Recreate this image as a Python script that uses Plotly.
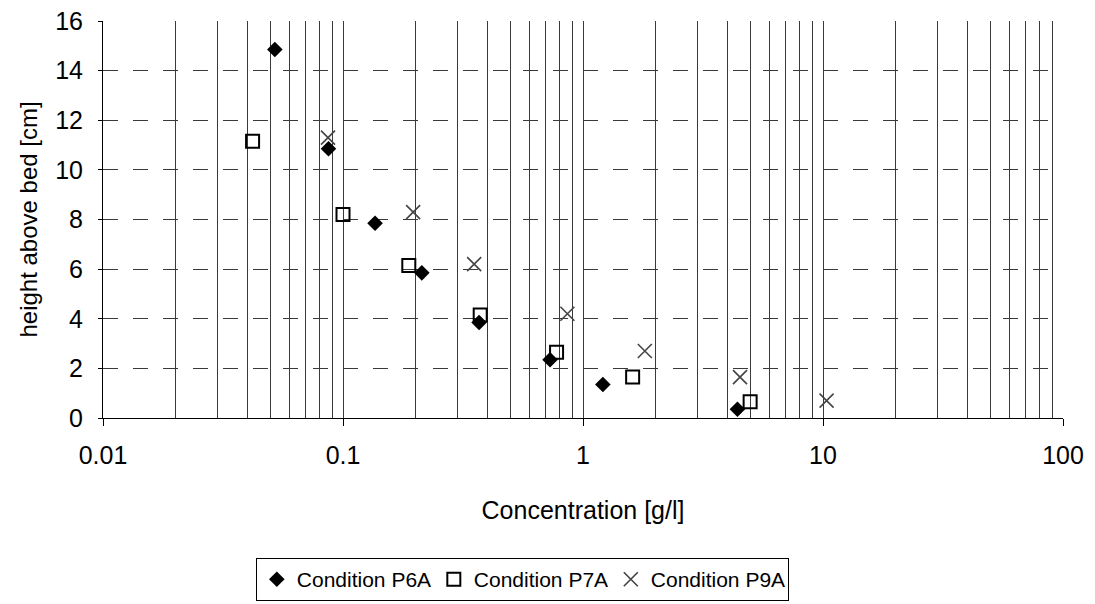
import plotly.graph_objects as go

p6a_x = [0.052, 0.087, 0.136, 0.213, 0.369, 0.729, 1.21, 4.4]
p6a_y = [14.85, 10.85, 7.85, 5.85, 3.85, 2.35, 1.35, 0.35]

p7a_x = [0.042, 0.100, 0.188, 0.373, 0.776, 1.61, 4.97]
p7a_y = [11.15, 8.2, 6.15, 4.15, 2.65, 1.65, 0.65]

p9a_x = [0.0866, 0.196, 0.352, 0.861, 1.81, 4.51, 10.35]
p9a_y = [11.3, 8.3, 6.2, 4.2, 2.7, 1.65, 0.7]

x_ticks = [0.01, 0.1, 1, 10, 100]
x_labels = ["0.01", "0.1", "1", "10", "100"]
y_ticks = [0, 2, 4, 6, 8, 10, 12, 14, 16]

FONT = "Liberation Sans, Arial, sans-serif"
GRID = "#3a3a3a"

fig = go.Figure()
fig.add_trace(go.Scatter(
    x=p6a_x, y=p6a_y, mode="markers", name="Condition P6A",
    marker=dict(symbol="diamond", size=12, color="black", line=dict(width=0))))
fig.add_trace(go.Scatter(
    x=p7a_x, y=p7a_y, mode="markers", name="Condition P7A",
    marker=dict(symbol="square-open", size=13, color="black", line=dict(width=2, color="black"))))
fig.add_trace(go.Scatter(
    x=p9a_x, y=p9a_y, mode="markers", name="Condition P9A",
    marker=dict(symbol="x-thin-open", size=14, color="#444444", line=dict(width=1.6, color="#444444"))))

fig.update_layout(
    width=1095, height=604,
    margin=dict(l=103, r=32, t=21, b=186, autoexpand=False),
    paper_bgcolor="white", plot_bgcolor="white",
    font=dict(family=FONT, size=24, color="black"),
    showlegend=True,
    legend=dict(orientation="h", x=0.477, xref="container", y=0.076, yref="container",
                xanchor="center", yanchor="top",
                bordercolor="black", borderwidth=1, font=dict(size=21),
                itemwidth=30, entrywidth=132, tracegroupgap=0),
    xaxis=dict(
        type="log", range=[-2, 2], tickvals=x_ticks, ticktext=x_labels, automargin=False,
        showgrid=True, gridcolor=GRID, gridwidth=1,
        minor=dict(showgrid=True, dtick="D1", gridcolor=GRID, gridwidth=1, ticks=""),
        showline=True, linecolor="black", linewidth=1, mirror=False,
        ticks="outside", ticklen=7, tickcolor="black", ticklabelstandoff=8,
        title=dict(text="Concentration [g/l]", standoff=33, font=dict(size=25)),
        zeroline=False, tickfont=dict(size=25)),
    yaxis=dict(
        range=[0, 16], tickvals=y_ticks, automargin=False,
        showgrid=True, gridcolor=GRID, gridwidth=1, griddash="longdash",
        showline=True, linecolor="black", linewidth=1,
        ticks="outside", ticklen=4, tickcolor="black", ticklabelstandoff=10,
        title=dict(text="height above bed [cm]", standoff=10, font=dict(size=24)),
        zeroline=False, tickfont=dict(size=25)),
)

fig.write_html("out.html")
